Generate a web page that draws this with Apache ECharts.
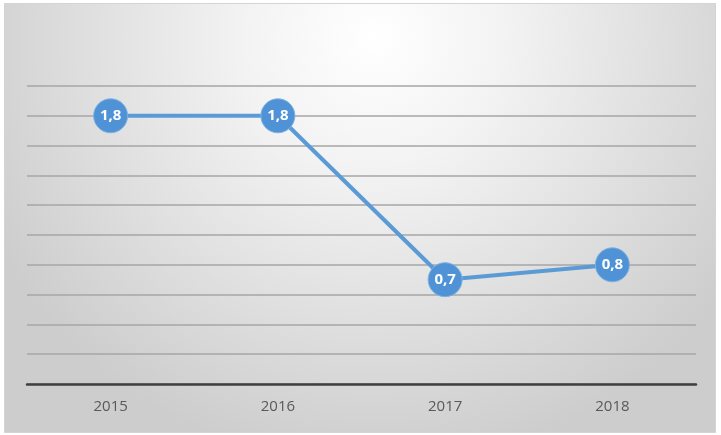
<!DOCTYPE html>
<html>
<head>
<meta charset="utf-8">
<script src="https://cdn.jsdelivr.net/npm/echarts@6/dist/echarts.min.js"></script>
<style>
  html, body { margin: 0; padding: 0; background: #fff; }
  #chart { width: 721px; height: 435px; }
</style>
</head>
<body>
<div id="chart"></div>
<script>
const years = ["2015", "2016", "2017", "2018"];
const values = [1.8, 1.8, 0.7, 0.8];
const yMin = 0;
const yMax = 2;
const yStep = 0.2;

var myChart = echarts.init(document.getElementById("chart"), null, { renderer: "canvas" });

const option = {
  animation: false,
  graphic: {
    elements: [
      {
        type: "rect",
        left: 4,
        top: 3,
        shape: { width: 711, height: 429 },
        style: {
          // fondo degradado tipo Excel
          fill: new echarts.graphic.RadialGradient(0.52, 0.08, 1.0, [
            { offset: 0, color: "#ffffff" },
            { offset: 0.3, color: "#f3f3f3" },
            { offset: 0.65, color: "#e0e0e0" },
            { offset: 1, color: "#cdcdcd" },
          ]),
          stroke: "#d4d4d4",
          lineWidth: 1,
        },
        z: -10,
        silent: true,
      },
    ],
  },
  grid: {
    left: 27,
    right: 25,
    top: 86,
    bottom: 51,
  },
  xAxis: {
    type: "category",
    data: years,
    boundaryGap: true,
    axisLine: { show: true, lineStyle: { color: "#3f3f3f", width: 2.5 } },
    axisTick: { show: false },
    axisLabel: {
      color: "#595959",
      fontSize: 15,
      fontFamily: "Open Sans, Calibri, sans-serif",
      margin: 15,
    },
  },
  yAxis: {
    type: "value",
    min: yMin,
    max: yMax,
    interval: yStep,
    axisLabel: { show: false },
    axisLine: { show: false },
    axisTick: { show: false },
    splitLine: { lineStyle: { color: "#a6a6a6", width: 1.5 } },
  },
  series: [
    {
      type: "line",
      data: values,
      symbol: "circle",
      symbolSize: 34,
      lineStyle: { color: "#5b9bd5", width: 4 },
      itemStyle: { color: "#4f93d6", borderColor: "#7fb2e2", borderWidth: 1 },
      label: {
        show: true,
        position: "inside",
        color: "#ffffff",
        fontSize: 15,
        fontWeight: "bold",
        fontFamily: "Open Sans, Calibri, sans-serif",
        formatter: function (p) {
          return String(p.value).replace(".", ",");
        },
      },
      z: 5,
    },
  ],
};

myChart.setOption(option);
</script>
</body>
</html>
